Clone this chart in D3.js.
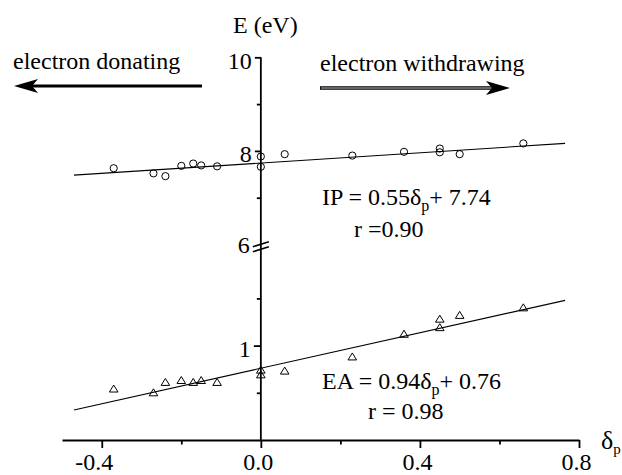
<!DOCTYPE html>
<html>
<head>
<meta charset="utf-8">
<script src="https://cdn.jsdelivr.net/npm/d3@7"></script>
<style>
  body { margin: 0; background: #fff; }
  svg { display: block; font-family: "Liberation Serif", "Times New Roman", serif; }
  text { fill: #000; }
</style>
</head>
<body>
<svg id="chart" width="622" height="475"></svg>
<script>
// Hammett sigma_p of the substituents
var sigma = [-0.37, -0.27, -0.24, -0.20, -0.17, -0.15, -0.11, 0.00, 0.00, 0.06, 0.23, 0.36, 0.45, 0.45, 0.50, 0.66];
// ionisation potentials (eV), upper panel
var ipValues = [7.63, 7.52, 7.46, 7.68, 7.73, 7.69, 7.67, 7.88, 7.66, 7.93, 7.90, 7.98, 8.05, 7.97, 7.93, 8.16];
// electron affinities (eV), lower panel
var eaValues = [0.54, 0.50, 0.61, 0.63, 0.61, 0.63, 0.61, 0.74, 0.69, 0.73, 0.88, 1.12, 1.28, 1.19, 1.32, 1.40];

// fitted lines: [slope, intercept]
var ipFit = [0.55, 7.74];
var eaFit = [0.94, 0.76];
var fitRange = [-0.47, 0.765];

var xTicks = [-0.4, 0, 0.4, 0.8];
var xMinorTicks = [-0.2, 0.2, 0.6];
var upperTicks = [10, 8];
var upperMinorTicks = [9, 7];
var lowerTicks = [1];
var lowerMinorTicks = [1.5, 0.5];

var svg = d3.select("#chart");

var x = d3.scaleLinear().domain([-0.5, 0.8]).range([62, 579]);
var yUp = d3.scaleLinear().domain([6, 10]).range([244.5, 57.3]);
var yLo = d3.scaleLinear().domain([0, 2]).range([440, 251.2]);
var breakY = 246.7;

// ---- axes ----
var xAxis = svg.append("g")
  .attr("transform", "translate(0," + yLo(0) + ")")
  .call(d3.axisBottom(x)
    .tickValues(xTicks)
    .tickSize(8)
    .tickSizeOuter(0)
    .tickPadding(5)
    .tickFormat(function(d) { return d.toFixed(1); }));
xAxis.select(".domain").attr("stroke-width", 1.8);
xAxis.selectAll(".tick line").attr("stroke-width", 1.8);
xAxis.selectAll(".tick text")
  .attr("font-size", 24)
  .attr("font-family", "Liberation Serif")
  .attr("dx", function(d) { return d < 0 ? -8 : -3; });

var xMinor = svg.append("g")
  .attr("transform", "translate(0," + yLo(0) + ")")
  .call(d3.axisBottom(x).tickValues(xMinorTicks).tickSize(4.5).tickFormat(""));
xMinor.select(".domain").remove();
xMinor.selectAll(".tick line").attr("stroke-width", 1.8);

// y axis line (both panels)
svg.append("line")
  .attr("x1", x(0)).attr("x2", x(0))
  .attr("y1", yUp(10)).attr("y2", yLo(0))
  .attr("stroke", "#000").attr("stroke-width", 1.8);

function yAxisPart(scale, vals, size, labels) {
  var g = svg.append("g")
    .attr("transform", "translate(" + x(0) + ",0)")
    .call(d3.axisLeft(scale).tickValues(vals).tickSize(size).tickPadding(3)
      .tickFormat(labels ? d3.format("d") : ""));
  g.select(".domain").remove();
  g.selectAll(".tick line").attr("stroke-width", 1.8);
  g.selectAll(".tick text")
    .attr("font-size", 24)
    .attr("font-family", "Liberation Serif")
    .attr("dy", "0.45em");
  return g;
}
yAxisPart(yUp, upperTicks, 6, true);
yAxisPart(yUp, upperMinorTicks, 4, false);
yAxisPart(yLo, lowerTicks, 7, true);
yAxisPart(yLo, lowerMinorTicks, 4, false);

// label "6" at the axis break
svg.append("text")
  .attr("x", x(0) - 11).attr("y", yUp(6) + 8)
  .attr("text-anchor", "end")
  .attr("font-size", 24)
  .text("6");

// break marks
[-2.5, 2.5].forEach(function(off) {
  svg.append("line")
    .attr("x1", x(0) - 8).attr("y1", breakY + off + 2.5)
    .attr("x2", x(0) + 8).attr("y2", breakY + off - 2.5)
    .attr("stroke", "#000").attr("stroke-width", 1.6);
});

// ---- fit lines ----
function fitLine(fit, yScale) {
  svg.append("line")
    .attr("x1", x(fitRange[0])).attr("y1", yScale(fit[0] * fitRange[0] + fit[1]))
    .attr("x2", x(fitRange[1])).attr("y2", yScale(fit[0] * fitRange[1] + fit[1]))
    .attr("stroke", "#000").attr("stroke-width", 1.1);
}
fitLine(ipFit, yUp);
fitLine(eaFit, yLo);

// ---- markers ----
svg.append("g").selectAll("circle")
  .data(sigma)
  .enter().append("circle")
    .attr("cx", function(d) { return x(d); })
    .attr("cy", function(d, i) { return yUp(ipValues[i]); })
    .attr("r", 3.6)
    .attr("fill", "none")
    .attr("stroke", "#000")
    .attr("stroke-width", 1);

svg.append("g").selectAll("path")
  .data(sigma)
  .enter().append("path")
    .attr("d", "M0,-4L4.3,3L-4.3,3Z")
    .attr("transform", function(d, i) { return "translate(" + x(d) + "," + yLo(eaValues[i]) + ")"; })
    .attr("fill", "none")
    .attr("stroke", "#000")
    .attr("stroke-width", 1);

// ---- texts ----
svg.append("text")
  .attr("x", 233).attr("y", 33)
  .attr("font-size", 24)
  .text("E (eV)");

var dp = svg.append("text").attr("x", 601).attr("y", 449).attr("font-size", 26);
dp.append("tspan").text("δ");
dp.append("tspan").attr("font-size", 15).attr("dy", 5).text("p");

function equation(xPos, yPos, pre, post) {
  var t = svg.append("text").attr("x", xPos).attr("y", yPos).attr("font-size", 24);
  t.append("tspan").text(pre);
  t.append("tspan").attr("font-size", 16).attr("dy", 6).text("p");
  t.append("tspan").attr("dy", -6).text(post);
}
equation(322, 205, "IP = 0.55δ", "+ 7.74");
svg.append("text").attr("x", 354).attr("y", 237).attr("font-size", 24).text("r =0.90");
equation(322, 389, "EA = 0.94δ", "+ 0.76");
svg.append("text").attr("x", 368).attr("y", 419).attr("font-size", 24).text("r = 0.98");

svg.append("text").attr("x", 13).attr("y", 69).attr("font-size", 24).text("electron donating");
svg.append("text").attr("x", 320).attr("y", 71).attr("font-size", 24).text("electron withdrawing");

// arrows
svg.append("line")
  .attr("x1", 30).attr("y1", 86).attr("x2", 202).attr("y2", 86)
  .attr("stroke", "#000").attr("stroke-width", 3);
svg.append("path")
  .attr("d", "M14,86L38,79L32,86L38,93Z")
  .attr("fill", "#000");

svg.append("line")
  .attr("x1", 320).attr("y1", 88).attr("x2", 496).attr("y2", 88)
  .attr("stroke", "#000").attr("stroke-width", 3.4);
svg.append("line")
  .attr("x1", 321).attr("y1", 88).attr("x2", 494).attr("y2", 88)
  .attr("stroke", "#fff").attr("stroke-width", 0.8);
svg.append("path")
  .attr("d", "M510,88L486,81L492,88L486,95Z")
  .attr("fill", "#000");
</script>
</body>
</html>
